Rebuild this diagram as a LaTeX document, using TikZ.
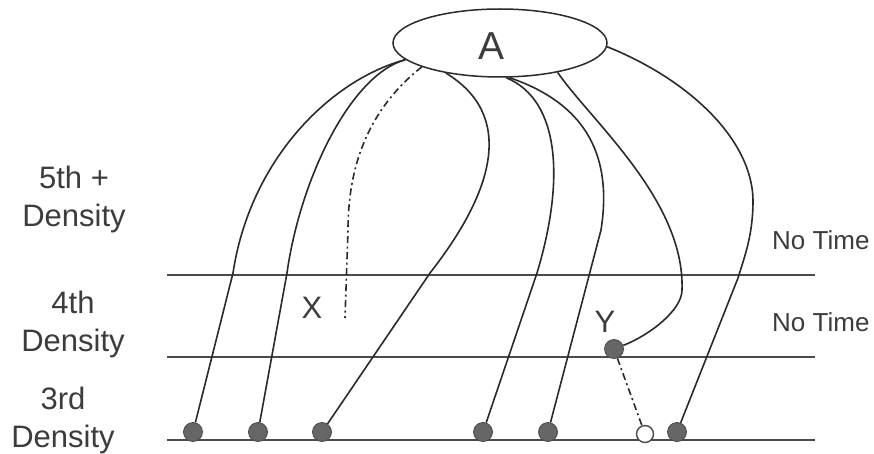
\documentclass[tikz,border=0pt]{standalone}
\usepackage{fontspec}
\setmainfont{Liberation Sans}
\usetikzlibrary{shapes.geometric}
\definecolor{ink}{HTML}{2A2A2A}
\definecolor{txt}{HTML}{3C3C3C}
\definecolor{dotfill}{HTML}{666666}
\definecolor{dotline}{HTML}{4A4A4A}
\tikzset{
  curve/.style={draw=ink, line width=1.6pt},
  level/.style={draw=ink!85, line width=1.9pt},
  dashdot/.style={draw=ink, line width=1.6pt, dash pattern=on 7pt off 3.5pt on 2pt off 3.5pt},
  dotnode/.style={circle, fill=dotfill, draw=dotline, line width=0.8pt, minimum size=19pt, inner sep=0pt},
  opendot/.style={circle, fill=white, draw=dotline, line width=1.4pt, minimum size=17pt, inner sep=0pt},
  lbl/.style={text=txt, align=center, font=\fontsize{31}{38}\selectfont, inner sep=0pt},
  tlbl/.style={text=txt, anchor=west, font=\fontsize{26}{30}\selectfont, inner sep=0pt},
  letter/.style={text=txt, font=\fontsize{31}{36}\selectfont, inner sep=0pt}
}
\begin{document}
\begin{tikzpicture}[x=1pt, y=-1pt]
\path[use as bounding box, fill=white] (0,0) rectangle (874,454);

% ellipse A
\node[ellipse, draw=ink, line width=1.5pt, minimum width=214pt, minimum height=68pt, inner sep=0pt] (A) at (500,43) {};
\node[letter, font=\fontsize{39}{44}\selectfont] (Alab) at (491,46) {A};

% level lines
\coordinate (l1a) at (167,275); \coordinate (l1b) at (815,275);
\coordinate (l2a) at (167,357); \coordinate (l2b) at (815,357);
\coordinate (l3a) at (167,440); \coordinate (l3b) at (815,440);
\draw[level] (l1a) -- (l1b);
\draw[level] (l2a) -- (l2b);
\draw[level] (l3a) -- (l3b);

% dots
\node[dotnode] (d1) at (193,432) {};
\node[dotnode] (d2) at (258,432) {};
\node[dotnode] (d3) at (322,432) {};
\node[dotnode] (d4) at (483,432) {};
\node[dotnode] (d5) at (548,432) {};
\node[opendot] (o) at (645,434) {};
\node[dotnode] (d7) at (677,432) {};
\node[dotnode] (Yd) at (614,349) {};

% curves from A
\draw[curve] (A.190) .. controls (330,80) and (250,160) .. (233,273) -- (d1);
\draw[curve] (A.190) .. controls (350,75) and (300,180) .. (287,273) -- (d2);
\coordinate (xend) at (345,318);
\draw[dashdot] (A.197) .. controls (380,100) and (348,150) .. (348,230) -- (xend);
\draw[curve] (A.209) .. controls (515,115) and (495,190) .. (430,273) -- (d3);
\draw[curve] (A.280) .. controls (560,100) and (565,180) .. (537,273) -- (d4);
\draw[curve] (A.285) .. controls (590,105) and (612,160) .. (601,230) -- (d5);
\draw[curve] (A.333) .. controls (590,120) and (685,200) .. (682,290) .. controls (682,310) and (650,335) .. (Yd);
\draw[curve] (A.358) .. controls (690,80) and (752,140) .. (753,200) .. controls (753,235) and (745,255) .. (738,278) -- (d7);
\draw[dashdot] (Yd) -- (o);

% labels
\node[letter] (X) at (312,308) {X};
\node[letter] (Y) at (605,322) {Y};
\node[lbl] (L5) at (74,199) {5th +\\Density};
\node[lbl] (L4) at (73,324) {4th\\Density};
\node[lbl] (L3) at (63,420) {3rd\\Density};
\node[tlbl] (T1) at (772,240) {No Time};
\node[tlbl] (T2) at (772,322) {No Time};
\end{tikzpicture}
\end{document}
